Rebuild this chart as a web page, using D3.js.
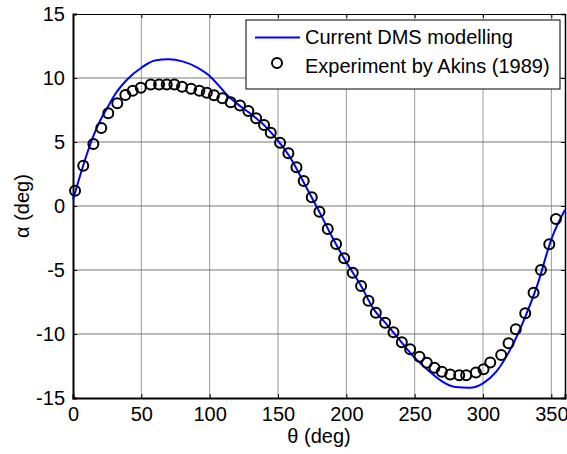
<!DOCTYPE html>
<html>
<head>
<meta charset="utf-8">
<script src="https://cdn.jsdelivr.net/npm/d3@7"></script>
<style>
  body { margin: 0; background: #fff; }
  svg { display: block; font-family: "Liberation Sans", Arial, sans-serif; }
</style>
</head>
<body>
<svg id="chart" width="567" height="454"></svg>
<script>
"use strict";

// model curve (theta in deg, alpha in deg)
const modelTheta = [0, 5, 10, 15, 20, 25, 30, 40, 50, 60, 70, 80, 90, 100, 105, 110, 115, 120, 130, 140, 150,
                    160, 170, 180, 190, 200, 210, 220, 230, 240, 250, 260, 270, 280, 290, 300, 310,
                    320, 330, 340, 350, 360];
const modelAlpha = [0.5, 2.3, 4.0, 5.5, 6.7, 7.65, 8.6, 9.92, 10.8, 11.37, 11.46, 11.3, 10.87, 10.15, 9.6, 9.0, 8.45, 8.0, 7.2, 6.3, 5.1,
                    3.6, 1.6, -0.4, -2.5, -4.4, -6.1, -8.06, -9.3, -10.6, -11.85, -12.85, -13.7, -14.15, -14.2, -13.85, -12.9,
                    -11.2, -8.9, -6.1, -2.6, -0.3];

// experiment by Akins (1989)
const expTheta = [1.5, 7.5, 14.9, 20.7, 25.8, 32.4, 38.3, 43.7, 49.6, 56.9, 63, 68.6, 74.2, 79.8, 86.4,
                  92.5, 97.9, 103.2, 109.3, 115.4, 122.2, 128.3, 134, 139.8, 144.7, 151.5, 157.6, 163.5,
                  168.8, 174.7, 180.3, 186.4, 192.5, 198.4, 204.7, 210.8, 216.2, 221.6, 228.4, 234.5,
                  240.6, 246.7, 253.5, 258.9, 264.5, 269.9, 276, 282.6, 287.7, 294.8, 300.4, 305.3,
                  313.3, 318.7, 324, 330.9, 337, 342.4, 348.5, 353.4];
const expAlpha = [1.2, 3.15, 4.84, 6.09, 7.24, 8.02, 8.67, 9.01, 9.24, 9.5, 9.5, 9.5, 9.5, 9.32, 9.16,
                  9.0, 8.85, 8.65, 8.41, 8.1, 7.85, 7.42, 6.85, 6.33, 5.73, 4.95, 4.12, 3.02,
                  1.95, 0.68, -0.45, -1.8, -2.97, -4.09, -5.21, -6.25, -7.4, -8.34, -9.12, -9.87,
                  -10.65, -11.2, -11.77, -12.24, -12.63, -12.95, -13.16, -13.23, -13.23, -13.0, -12.76, -12.23,
                  -11.64, -10.73, -9.63, -8.38, -6.77, -5.0, -2.99, -1.02];

const xTicks = [0, 50, 100, 150, 200, 250, 300, 350];
const yTicks = [-15, -10, -5, 0, 5, 10, 15];
const legendLabels = ["Current DMS modelling", "Experiment by Akins (1989)"];

const margin = { top: 14, right: 2, bottom: 56, left: 73 };
const width = 567, height = 454;
const fontSize = "20px";

const svg = d3.select("#chart");

const x = d3.scaleLinear().domain([0, 360]).range([margin.left, width - margin.right]);
const y = d3.scaleLinear().domain([-15, 15]).range([height - margin.bottom, margin.top]);

// grid
const grid = svg.append("g");
grid.selectAll("line.gx").data(xTicks.filter(d => d > 0)).enter().append("line")
    .attr("x1", d => x(d)).attr("x2", d => x(d))
    .attr("y1", y(-15)).attr("y2", y(15))
    .attr("stroke", "#999").attr("stroke-width", 1);
grid.selectAll("line.gy").data(yTicks.filter(d => d > -15 && d < 15)).enter().append("line")
    .attr("y1", d => y(d)).attr("y2", d => y(d))
    .attr("x1", x(0)).attr("x2", x(360))
    .attr("stroke", "#777").attr("stroke-width", 1);

// axes box with inward ticks on all sides
const fmt = d => String(d);
const xAxisB = d3.axisBottom(x).tickValues(xTicks).tickSize(-4).tickPadding(9).tickFormat(fmt);
const xAxisT = d3.axisTop(x).tickValues(xTicks).tickSize(-4).tickFormat("");
const yAxisL = d3.axisLeft(y).tickValues(yTicks).tickSize(-4).tickPadding(8).tickFormat(fmt);
const yAxisR = d3.axisRight(y).tickValues(yTicks).tickSize(-4).tickFormat("");

function styleAxis(g, w) {
  g.select(".domain").attr("stroke", "#000").attr("stroke-width", w);
  g.selectAll(".tick line").attr("stroke", "#000").attr("stroke-width", 1);
  g.selectAll(".tick text").attr("fill", "#000").style("font-size", fontSize)
   .style("font-family", "'Liberation Sans', Arial, sans-serif");
}

svg.append("g").attr("transform", `translate(0,${y(15)})`).call(xAxisT).call(g => styleAxis(g, 1));
svg.append("g").attr("transform", `translate(${x(360)},0)`).call(yAxisR).call(g => styleAxis(g, 1.5));
svg.append("g").attr("transform", `translate(0,${y(-15)})`).call(xAxisB).call(g => styleAxis(g, 2));
svg.append("g").attr("transform", `translate(${x(0)},0)`).call(yAxisL).call(g => styleAxis(g, 2));

// model line
const line = d3.line()
    .x((d, i) => x(modelTheta[i]))
    .y(d => y(d))
    .curve(d3.curveMonotoneX);
svg.append("path")
    .datum(modelAlpha)
    .attr("d", line)
    .attr("fill", "none")
    .attr("stroke", "#0000ff")
    .attr("stroke-width", 2);

// experiment markers
svg.append("g").selectAll("circle")
    .data(expAlpha).enter().append("circle")
    .attr("cx", (d, i) => x(expTheta[i]))
    .attr("cy", d => y(d))
    .attr("r", 5)
    .attr("fill", "none")
    .attr("stroke", "#000")
    .attr("stroke-width", 2);

// axis labels
svg.append("text")
    .attr("x", (x(0) + x(360)) / 2).attr("y", 443)
    .attr("text-anchor", "middle").style("font-size", fontSize)
    .text("θ (deg)");
svg.append("text")
    .attr("transform", `translate(29,${(y(-15) + y(15)) / 2}) rotate(-90)`)
    .attr("text-anchor", "middle").style("font-size", fontSize)
    .text("α (deg)");

// legend
const lg = svg.append("g");
lg.append("rect")
    .attr("x", 246).attr("y", 20).attr("width", 314).attr("height", 69)
    .attr("fill", "#fff").attr("stroke", "#000").attr("stroke-width", 1);
lg.append("line")
    .attr("x1", 255).attr("x2", 300).attr("y1", 37.5).attr("y2", 37.5)
    .attr("stroke", "#0000ff").attr("stroke-width", 2);
lg.append("circle")
    .attr("cx", 277).attr("cy", 63).attr("r", 5)
    .attr("fill", "none").attr("stroke", "#000").attr("stroke-width", 2);
lg.selectAll("text").data(legendLabels).enter().append("text")
    .attr("x", 305).attr("y", (d, i) => 44 + i * 29)
    .style("font-size", fontSize)
    .text(d => d);
</script>
</body>
</html>
